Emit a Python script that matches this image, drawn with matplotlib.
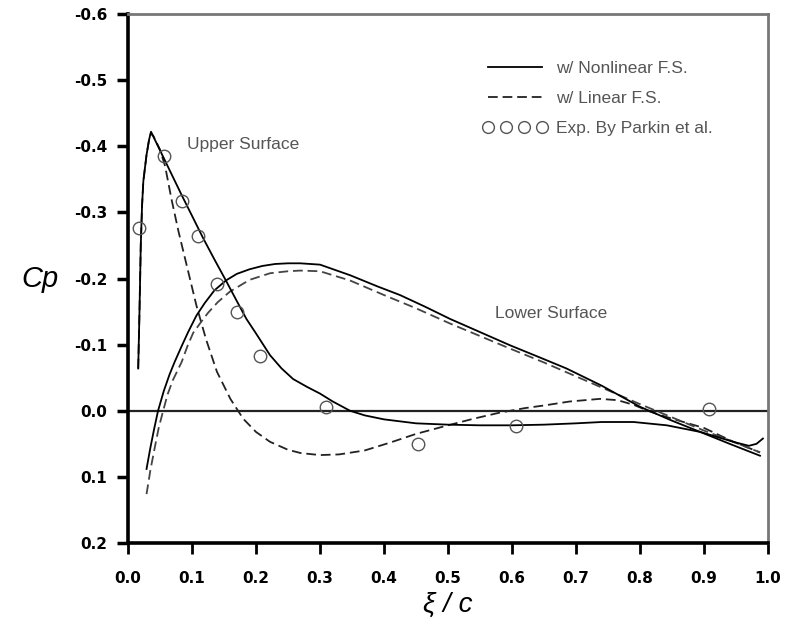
import matplotlib
matplotlib.use("Agg")
import matplotlib.pyplot as plt
from matplotlib.lines import Line2D

plt.rcParams['lines.scale_dashes'] = False

# ---- data ----
x_upper_nl = [0.016, 0.018, 0.020, 0.022, 0.024, 0.029, 0.033, 0.036, 0.045, 0.056, 0.07, 0.084,
              0.10, 0.118, 0.135, 0.153, 0.17, 0.185, 0.20, 0.222, 0.24, 0.258, 0.28, 0.30, 0.32,
              0.347, 0.37, 0.40, 0.45, 0.50, 0.55, 0.60, 0.65, 0.70, 0.74, 0.79, 0.842, 0.894,
              0.946, 0.97, 0.982, 0.992]
cp_upper_nl = [-0.064, -0.15, -0.25, -0.31, -0.347, -0.387, -0.41, -0.422, -0.404, -0.382, -0.354,
               -0.326, -0.295, -0.26, -0.229, -0.197, -0.166, -0.139, -0.117, -0.084, -0.064, -0.048,
               -0.036, -0.026, -0.014, 0.0, 0.007, 0.013, 0.019, 0.021, 0.022, 0.022, 0.021, 0.019,
               0.017, 0.017, 0.022, 0.032, 0.047, 0.053, 0.05, 0.042]

x_upper_lin = [0.016, 0.018, 0.020, 0.022, 0.024, 0.029, 0.033, 0.036, 0.04, 0.05, 0.058, 0.068,
               0.079, 0.093, 0.107, 0.122, 0.139, 0.16, 0.18, 0.2, 0.222, 0.25, 0.27, 0.3, 0.33,
               0.37, 0.41, 0.45, 0.5, 0.54, 0.58, 0.62, 0.65, 0.69, 0.7375, 0.765, 0.79, 0.815,
               0.84, 0.868, 0.9, 0.946, 0.9875]
cp_upper_lin = [-0.064, -0.15, -0.25, -0.31, -0.347, -0.387, -0.41, -0.42, -0.415, -0.395, -0.37,
                -0.32, -0.271, -0.215, -0.159, -0.108, -0.059, -0.018, 0.012, 0.032, 0.047, 0.059,
                0.064, 0.067, 0.066, 0.06, 0.048, 0.035, 0.022, 0.012, 0.003, -0.004, -0.008,
                -0.014, -0.018, -0.016, -0.009, 0.001, 0.009, 0.017, 0.026, 0.047, 0.063]

x_lower_nl = [0.029, 0.035, 0.041, 0.047, 0.056, 0.065, 0.073, 0.084, 0.094, 0.107, 0.12, 0.135,
              0.153, 0.17, 0.19, 0.21, 0.23, 0.25, 0.269, 0.3, 0.347, 0.39, 0.425, 0.465, 0.503,
              0.55, 0.597, 0.64, 0.685, 0.74, 0.8, 0.85, 0.894, 0.94, 0.9875]
cp_lower_nl = [0.088, 0.056, 0.027, 0.0, -0.03, -0.055, -0.074, -0.098, -0.119, -0.144, -0.163,
               -0.182, -0.197, -0.207, -0.214, -0.219, -0.222, -0.223, -0.223, -0.221, -0.205,
               -0.188, -0.175, -0.157, -0.139, -0.119, -0.099, -0.082, -0.064, -0.038, -0.006,
               0.015, 0.032, 0.05, 0.068]

x_lower_lin = [0.029, 0.035, 0.042, 0.048, 0.055, 0.062, 0.07, 0.084, 0.093, 0.102, 0.1125, 0.125,
               0.14, 0.159, 0.19, 0.222, 0.25, 0.269, 0.3, 0.347, 0.40, 0.425, 0.45, 0.503, 0.55,
               0.597, 0.65, 0.7, 0.75, 0.8, 0.85, 0.9, 0.946, 0.9875]
cp_lower_lin = [0.126, 0.09, 0.055, 0.026, 0.0, -0.025, -0.046, -0.074, -0.098, -0.118, -0.132,
                -0.148, -0.164, -0.18, -0.198, -0.208, -0.211, -0.212, -0.211, -0.197, -0.175,
                -0.165, -0.155, -0.132, -0.113, -0.094, -0.073, -0.052, -0.031, -0.01, 0.01, 0.03,
                0.047, 0.063]

x_exp = [0.017, 0.056, 0.084, 0.109, 0.139, 0.17, 0.206, 0.309, 0.453, 0.606, 0.908]
cp_exp = [-0.277, -0.385, -0.317, -0.264, -0.192, -0.15, -0.083, -0.006, 0.05, 0.023, -0.003]

x_ticks = [0.0, 0.1, 0.2, 0.3, 0.4, 0.5, 0.6, 0.7, 0.8, 0.9, 1.0]
x_tick_labels = ["0.0", "0.1", "0.2", "0.3", "0.4", "0.5", "0.6", "0.7", "0.8", "0.9", "1.0"]
y_ticks = [-0.6, -0.5, -0.4, -0.3, -0.2, -0.1, 0.0, 0.1, 0.2]
y_tick_labels = ["-0.6", "-0.5", "-0.4", "-0.3", "-0.2", "-0.1", "0.0", "0.1", "0.2"]

legend_labels = ["w/ Nonlinear F.S.", "w/ Linear F.S.", "Exp. By Parkin et al."]

# ---- figure ----
fig = plt.figure(figsize=(7.87, 6.29), dpi=100)
ax = fig.add_axes([0.1626, 0.1367, 0.8133, 0.841])

dash = (7, 3.5)
lw = 1.3
ax.axhline(0.0, color='#222222', lw=1.6, zorder=1)
ax.plot(x_upper_nl, cp_upper_nl, color='black', lw=lw, zorder=3)
ax.plot(x_lower_nl, cp_lower_nl, color='black', lw=lw, zorder=3)
ax.plot(x_upper_lin, cp_upper_lin, color='#222222', lw=lw, dashes=dash, zorder=2)
ax.plot(x_lower_lin, cp_lower_lin, color='#444444', lw=lw, dashes=dash, zorder=2)
ax.plot(x_exp, cp_exp, linestyle='none', marker='o', markersize=9, markerfacecolor='none',
        markeredgecolor='#555555', markeredgewidth=1.0, zorder=4)

ax.set_xlim(0.0, 1.0)
ax.set_ylim(0.2, -0.6)
ax.set_xticks(x_ticks)
ax.set_xticklabels(x_tick_labels)
ax.set_yticks(y_ticks)
ax.set_yticklabels(y_tick_labels)

for lab in ax.get_xticklabels() + ax.get_yticklabels():
    lab.set_fontfamily('DejaVu Sans')
    lab.set_fontweight('bold')
    lab.set_fontsize(11)
ax.tick_params(axis='y', direction='out', length=8, width=2.5, pad=7, colors='black')
ax.tick_params(axis='x', direction='out', length=8, width=2.0, pad=12, colors='black')

for s in ['left', 'bottom']:
    ax.spines[s].set_linewidth(2.6)
    ax.spines[s].set_color('black')
for s in ['top', 'right']:
    ax.spines[s].set_linewidth(2.0)
    ax.spines[s].set_color('#777777')

ax.set_ylabel('Cp', fontsize=21, fontstyle='italic', family='Liberation Sans',
              rotation=0, labelpad=24, va='center')
ax.set_xlabel('ξ / c', fontsize=20, fontstyle='italic', family='Liberation Sans', labelpad=4)

ax.text(0.092, -0.403, 'Upper Surface', fontsize=12.5, color='#555555',
        family='Liberation Sans', va='center', ha='left')
ax.text(0.573, -0.147, 'Lower Surface', fontsize=12.5, color='#555555',
        family='Liberation Sans', va='center', ha='left')

handles = [
    Line2D([], [], color='black', lw=lw),
    Line2D([], [], color='#222222', lw=lw, dashes=dash),
    Line2D([], [], linestyle='none', marker='o', markersize=8.5, markerfacecolor='none',
           markeredgecolor='#555555', markeredgewidth=1.0),
]
leg = ax.legend(handles, legend_labels, loc='upper left', bbox_to_anchor=(0.555, 0.912),
                frameon=False, numpoints=4, handlelength=3.7, handletextpad=0.5,
                labelspacing=0.87, borderpad=0, borderaxespad=0,
                prop=dict(family='Liberation Sans', size=12.5))
for t in leg.get_texts():
    t.set_color('#555555')

fig.savefig('out.png', dpi=100)
